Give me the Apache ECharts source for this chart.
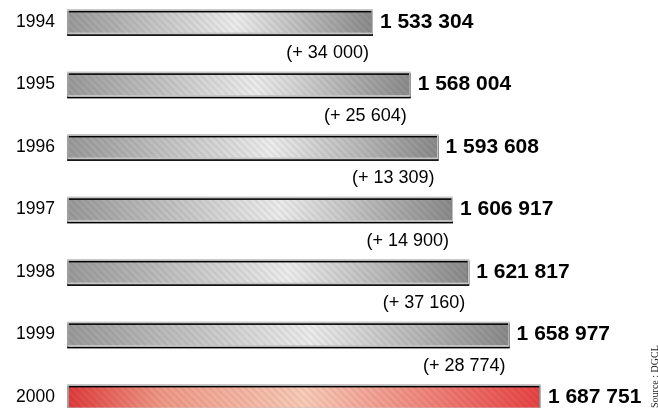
<!DOCTYPE html>
<html>
<head>
<meta charset="utf-8">
<script src="https://cdn.jsdelivr.net/npm/echarts@6/dist/echarts.min.js"></script>
<style>
  html, body { margin: 0; padding: 0; background: #fff; }
  #chart { width: 658px; height: 408px; }
</style>
</head>
<body>
<div id="chart"></div>
<script>
  const years = ['1994', '1995', '1996', '1997', '1998', '1999', '2000'];
  const totals = [1533304, 1568004, 1593608, 1606917, 1621817, 1658977, 1687751];
  const increments = [34000, 25604, 13309, 14900, 37160, 28774];

  // "1 533 304" style numbers
  const fmt = (v) => String(v).replace(/\B(?=(\d{3})+(?!\d))/g, ' ');

  const grey = new echarts.graphic.LinearGradient(0, 0, 1, 0, [
    { offset: 0, color: '#9a9a9a' },
    { offset: 0.55, color: '#ececec' },
    { offset: 1, color: '#8a8a8a' }
  ]);
  const red = new echarts.graphic.LinearGradient(0, 0, 1, 0, [
    { offset: 0, color: '#e03c3c' },
    { offset: 0.2, color: '#f09a88' },
    { offset: 0.5, color: '#f9cbb8' },
    { offset: 1, color: '#e84444' }
  ]);

  // faint diagonal hatching on the bars
  const hatch = {
    symbol: 'rect', symbolSize: 1,
    dashArrayX: [1, 0], dashArrayY: [1, 4],
    rotation: Math.PI / 4, color: 'rgba(0,0,0,0.06)'
  };

  const barData = totals.map((v, i) => ({
    value: v,
    itemStyle: { color: i === totals.length - 1 ? red : grey, decal: hatch }
  }));

  // increment labels sit between rows, right-aligned near the previous bar's end
  const incData = increments.map((d, i) => ({ value: [totals[i], i], inc: d }));

  const chart = echarts.init(document.getElementById('chart'));
  chart.setOption({
    animation: false,
    aria: { enabled: true, decal: { show: true } },
    grid: { left: 68, top: -9.5, width: 570, height: 437.5, outerBoundsMode: 'none', containLabel: false },
    xAxis: {
      type: 'value', min: 1253000, max: 1777000, show: false
    },
    yAxis: {
      type: 'category', data: years, inverse: true,
      axisLine: { show: false }, axisTick: { show: false },
      axisLabel: { fontSize: 17.5, color: '#000', fontFamily: 'Liberation Sans', margin: 13 }
    },
    series: [
      {
        type: 'bar',
        data: barData,
        barWidth: 25,
        itemStyle: {
          borderColor: '#c6c6c6', borderWidth: 1.5,
          shadowColor: 'rgba(20,20,20,0.9)', shadowOffsetY: 1.5, shadowBlur: 0
        },
        label: {
          show: true, position: 'right', distance: 7,
          fontSize: 21, fontWeight: 'bold', color: '#000', fontFamily: 'Liberation Sans',
          formatter: (p) => fmt(p.value)
        }
      },
      {
        type: 'scatter',
        data: incData,
        symbolSize: 0,
        label: {
          show: true, position: 'left', distance: 4, offset: [0, 31.5], opacity: 1,
          fontSize: 18, color: '#000', fontFamily: 'Liberation Sans',
          formatter: (p) => '(+ ' + fmt(p.data.inc) + ')'
        }
      }
    ],
    graphic: [{
      type: 'text', x: 650, y: 408, rotation: Math.PI / 2,
      style: { text: 'Source : DGCL', fontSize: 10, fontFamily: 'Liberation Serif', fill: '#222' }
    }]
  });
</script>
</body>
</html>
